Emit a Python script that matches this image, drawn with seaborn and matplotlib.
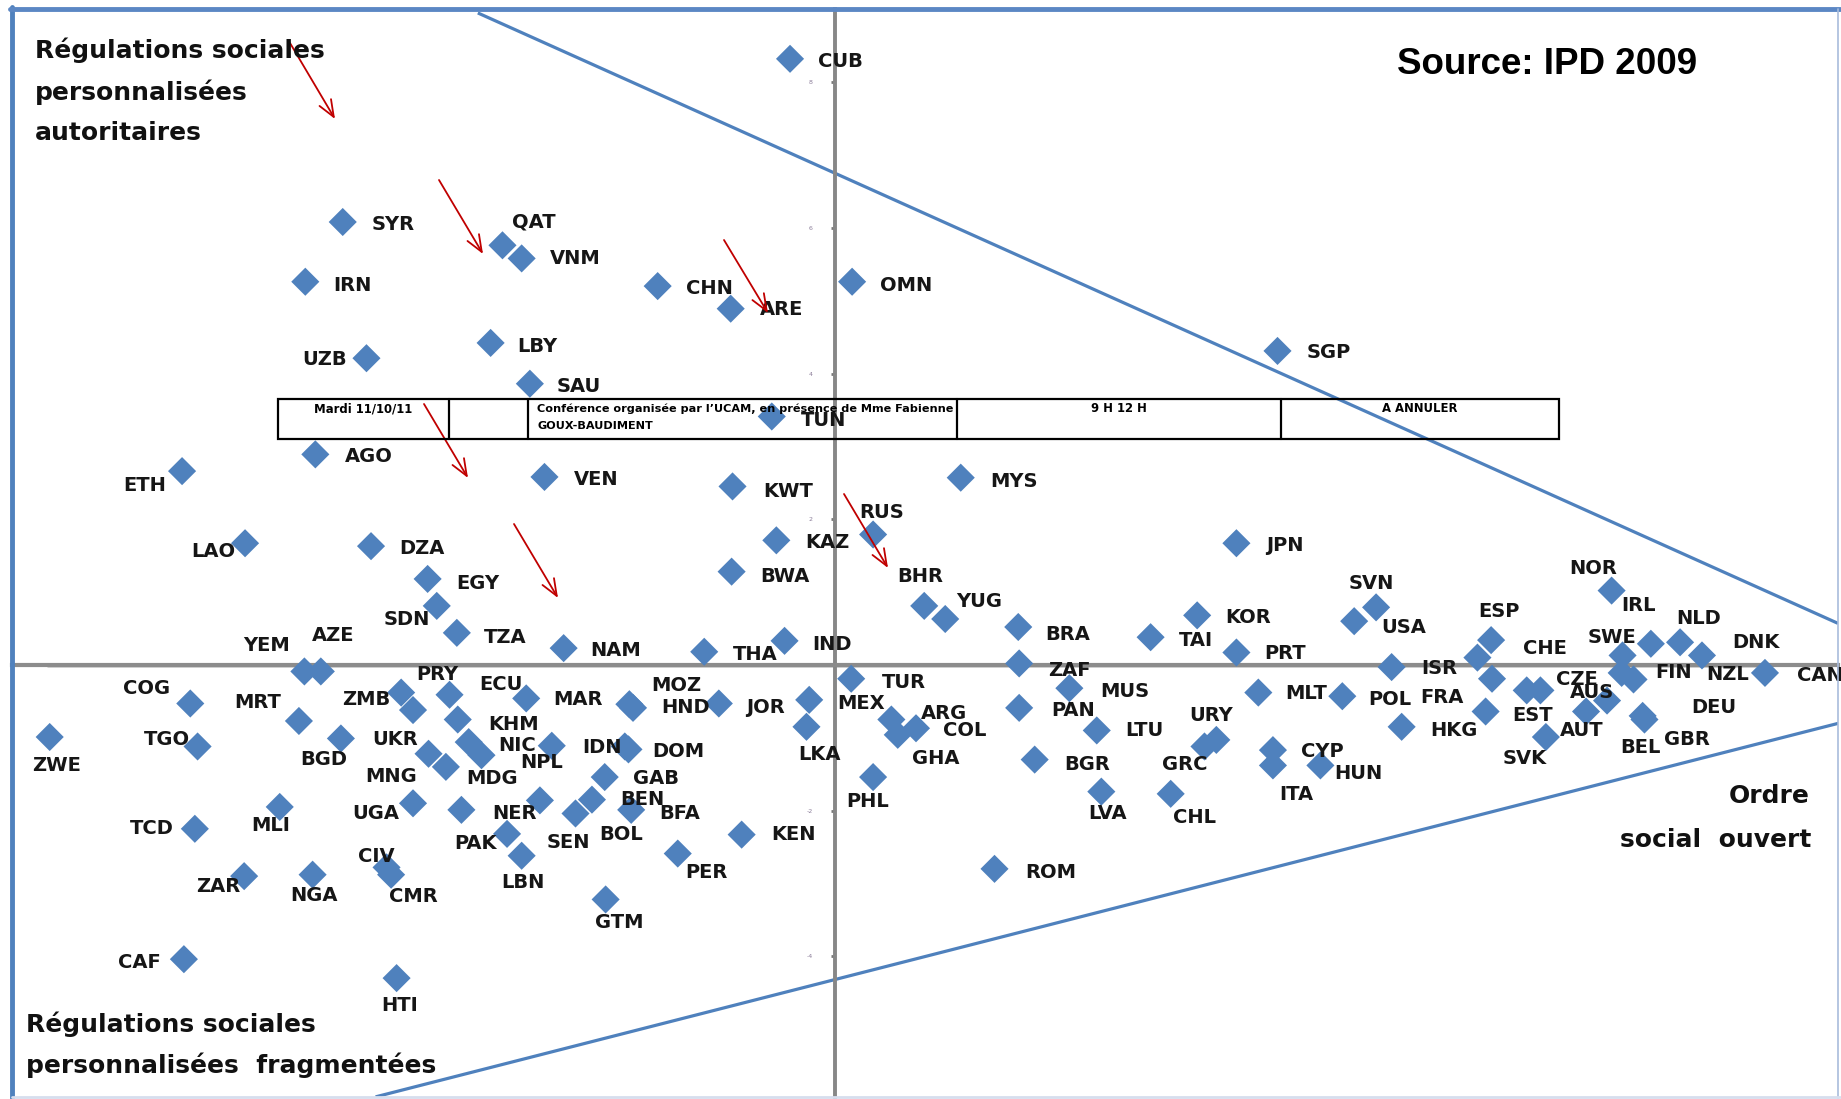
import matplotlib
matplotlib.use("Agg")
import matplotlib.pyplot as plt
import seaborn as sns
import pandas as pd
from matplotlib.lines import Line2D
from matplotlib.patches import Rectangle

# ---------------- data ----------------
countries = ["CUB","SYR","QAT","VNM","IRN","CHN","ARE","OMN","UZB","LBY","SAU","SGP","TUN","AGO","ETH","VEN",
             "KWT","MYS","RUS","KAZ","LAO","DZA","JPN","BWA","EGY","BHR","YUG","SDN","TZA","NAM","THA","IND",
             "BRA","TAI","KOR","PRT","SVN","USA","ESP","CHE","NOR","IRL","NLD","DNK","SWE","YEM","AZE","ZAF",
             "ISR","CAN","FIN","NZL","COG","ZWE","MRT","TGO","BGD","PRY","ZMB","ECU","MAR","MOZ","HND","JOR",
             "MEX","LKA","KHM","NIC","MDG","UKR","MNG","NPL","IDN","DOM","GAB","UGA","NER","PAK","SEN","BOL",
             "BEN","BFA","LBN","CIV","CMR","NGA","ZAR","MLI","TCD","CAF","HTI","GTM","PER","KEN","TUR","ARG",
             "COL","GHA","PHL","MUS","PAN","LTU","BGR","LVA","URY","GRC","CHL","ROM","MLT","POL","HKG","FRA",
             "EST","CZE","AUS","AUT","SVK","BEL","DEU","GBR","ITA","CYP","HUN"]
x_values = [-0.49,-5.39,-3.64,-3.43,-5.80,-1.94,-1.14,0.19,-5.13,-3.77,-3.34,4.85,-0.69,-5.69,-7.15,-3.18,
            -1.12,1.38,0.42,-0.64,-6.46,-5.08,4.40,-1.13,-4.46,0.98,1.21,-4.36,-4.14,-2.97,-1.43,-0.55,
            2.01,3.46,3.97,4.40,5.93,5.69,7.19,7.04,8.51,8.94,9.26,9.50,8.63,-5.81,-5.63,2.02,
            6.10,10.19,8.62,8.75,-7.06,-8.60,-5.87,-6.98,-5.41,-4.75,-4.62,-4.22,-3.38,-2.25,-2.21,-1.27,
            -0.28,-0.31,-4.13,-4.01,-3.87,-4.45,-4.26,-3.10,-2.30,-2.26,-2.52,-4.62,-4.09,-3.59,-3.23,-2.84,
            -2.66,-2.23,-3.43,-4.91,-4.86,-5.72,-6.47,-6.08,-7.01,-7.13,-4.80,-2.51,-1.72,-1.02,0.18,0.62,
            0.89,0.69,0.42,2.57,2.02,2.87,2.19,2.92,4.18,4.05,3.68,1.75,4.64,5.56,6.21,7.20,
            7.13,7.58,7.73,8.23,7.79,8.46,8.85,8.87,4.80,4.80,5.32]
y_values = [8.32,6.08,5.76,5.58,5.26,5.20,4.89,5.26,4.21,4.42,3.86,4.31,3.41,2.89,2.66,2.58,
            2.45,2.57,1.79,1.71,1.67,1.63,1.67,1.28,1.18,0.81,0.63,0.81,0.44,0.23,0.18,0.33,
            0.52,0.38,0.68,0.17,0.79,0.60,0.34,0.10,1.02,0.29,0.31,0.13,0.13,-0.09,-0.09,0.02,
            -0.03,-0.11,-0.11,-0.20,-0.53,-0.99,-0.77,-1.12,-1.01,-0.38,-0.62,-0.41,-0.46,-0.54,-0.59,-0.53,
            -0.48,-0.85,-0.75,-1.06,-1.24,-1.22,-1.40,-1.11,-1.12,-1.16,-1.54,-1.90,-1.99,-2.32,-1.86,-2.04,
            -1.85,-1.99,-2.62,-2.78,-2.88,-2.88,-2.90,-1.95,-2.25,-4.04,-4.30,-3.22,-2.59,-2.33,-0.19,-0.75,
            -0.87,-0.96,-1.54,-0.32,-0.59,-0.90,-1.30,-1.74,-1.03,-1.12,-1.77,-2.80,-0.38,-0.43,-0.85,-0.19,
            -0.64,-0.35,-0.35,-0.64,-0.99,-0.49,-0.70,-0.75,-1.38,-1.17,-1.38]
y_ticks = [-4, -2, 2, 4, 6, 8]
upper_line_x = [-3.91, 10.99]
upper_line_y = [8.95, 0.57]
lower_line_x = [-5.03, 11.0]
lower_line_y = [-5.93, -0.80]

# ---------------- layout (label offsets in reference px, dy downward) ----------------
LABEL_OFFSETS = {
    'CUB': (24, 2), 'SYR': (25, 2), 'QAT': (8, -20), 'VNM': (24, 0), 'IRN': (24, 3), 'CHN': (24, 2),
    'ARE': (25, 1), 'OMN': (24, 3), 'UZB': (-55, 1), 'LBY': (23, 3), 'SAU': (23, 2), 'SGP': (25, 1),
    'TUN': (25, 3), 'AGO': (25, 2), 'ETH': (-50, 12), 'VEN': (25, 2), 'KWT': (26, 4), 'MYS': (25, 3),
    'RUS': (-12, -19), 'KAZ': (25, 2), 'LAO': (-46, 7), 'DZA': (24, 2), 'JPN': (25, 2), 'BWA': (24, 4),
    'EGY': (24, 4), 'BHR': (-23, -25), 'YUG': (9, -15), 'SDN': (-45, 12), 'TZA': (23, 4), 'NAM': (23, 2),
    'THA': (24, 2), 'IND': (24, 3), 'BRA': (23, 6), 'TAI': (24, 3), 'KOR': (24, 2), 'PRT': (24, 1),
    'SVN': (-23, -20), 'USA': (23, 5), 'ESP': (-11, -24), 'CHE': (39, -8), 'NOR': (-36, -19),
    'IRL': (-25, -33), 'NLD': (-3, -20), 'DNK': (26, -11), 'SWE': (-30, -15), 'YEM': (-52, -22),
    'AZE': (-8, -31), 'ZAF': (25, 6), 'ISR': (25, 1), 'CAN': (27, 2), 'FIN': (29, 0), 'NZL': (62, -4),
    'COG': (-57, -13), 'ZWE': (-15, 24), 'MRT': (-55, -16), 'TGO': (-46, -6), 'BGD': (-35, 18),
    'PRY': (13, -15), 'ZMB': (-60, -9), 'ECU': (25, -9), 'MAR': (23, 1), 'MOZ': (19, -16), 'HND': (24, 0),
    'JOR': (23, 3), 'MEX': (24, 3), 'LKA': (-7, 24), 'KHM': (26, 4), 'NIC': (25, 3), 'MDG': (-13, 20),
    'UKR': (-48, -12), 'MNG': (-69, 8), 'NPL': (-27, 14), 'IDN': (-36, 1), 'DOM': (20, 2), 'GAB': (24, 1),
    'UGA': (-52, 9), 'NER': (26, 3), 'PAK': (-45, 8), 'SEN': (6, 36), 'BOL': (20, 18), 'BEN': (24, 0),
    'BFA': (24, 3), 'LBN': (-17, 23), 'CIV': (-24, -9), 'CMR': (-2, 19), 'NGA': (-19, 18), 'ZAR': (-41, 9),
    'MLI': (-24, 16), 'TCD': (-55, 0), 'CAF': (-56, 3), 'HTI': (-13, 23), 'GTM': (-9, 20), 'PER': (6, 16),
    'KEN': (25, 0), 'TUR': (26, 3), 'ARG': (25, -5), 'COL': (23, 2), 'GHA': (12, 20), 'PHL': (-23, 21),
    'MUS': (26, 3), 'PAN': (27, 2), 'LTU': (24, 0), 'BGR': (25, 4), 'LVA': (-11, 19), 'URY': (-23, -21),
    'GRC': (-36, 15), 'CHL': (2, 20), 'ROM': (26, 3), 'MLT': (23, 1), 'POL': (22, 3), 'HKG': (24, 3),
    'FRA': (-61, 16), 'EST': (23, 3), 'CZE': (25, -9), 'AUS': (25, 2), 'AUT': (-22, 16), 'SVK': (-37, 18),
    'BEL': (11, 40), 'DEU': (41, -7), 'GBR': (17, 17), 'ITA': (5, 25), 'CYP': (24, 1), 'HUN': (12, 7),
}
SCALE = 1841 / 1568.0
W, H = 1841, 1099
BLUE = "#4F81BD"
RED = "#C00000"

sns.set_theme(style="white")
plt.rcParams["font.family"] = ["DejaVu Sans"]

fig = plt.figure(figsize=(W / 100, H / 100), dpi=100)
fig.patch.set_facecolor("white")
ax = fig.add_axes([12 / W, 2 / H, 1826 / W, 1088 / H])
ax.set_facecolor("none")

df = pd.DataFrame({"code": countries, "x": x_values, "y": y_values})

# reference lines
ax.plot(upper_line_x, upper_line_y, color=BLUE, lw=2.3, zorder=1, solid_capstyle="butt")
ax.plot(lower_line_x, lower_line_y, color=BLUE, lw=2.3, zorder=1, solid_capstyle="butt")

sns.scatterplot(data=df, x="x", y="y", marker="D", s=205, color=BLUE, edgecolor="none",
                linewidth=0, ax=ax, zorder=3, legend=False)

ax.set_xlim(-9.013, 10.99)
ax.set_ylim(-5.932, 9.004)

for s in ["top", "right"]:
    ax.spines[s].set_visible(False)
ax.spines["left"].set_position(("data", 0))
ax.spines["left"].set_color("#878787")
ax.spines["left"].set_linewidth(2.8)
ax.spines["bottom"].set_position(("data", 0))
ax.spines["bottom"].set_color("#8c8c8c")
ax.spines["bottom"].set_linewidth(3.0)
ax.plot([-8.63, 10.19], [0, 0], color="black", lw=2.4, zorder=2, solid_capstyle="butt")

ax.set_xticks([])
ax.set_yticks(y_ticks)
ax.set_yticklabels([str(t) for t in y_ticks])
ax.tick_params(axis="y", direction="out", length=3, width=2, color="#777777",
               labelsize=4.5, labelcolor="#8b7d99", pad=13, left=True)
ax.set_xlabel("")
ax.set_ylabel("")

# country labels
for code, xv, yv in zip(countries, x_values, y_values):
    dx, dy = LABEL_OFFSETS.get(code, (25, 3))
    ax.annotate(code, (xv, yv), xytext=(dx * SCALE, -dy * SCALE), textcoords="offset pixels",
                ha="left", va="center", fontsize=14, fontweight="bold", color="#161616", zorder=4)

# frame
def fx(px):
    return px / W

def fy(py):
    return 1 - py / H

fig.add_artist(Line2D([fx(12), fx(12)], [fy(1098), fy(7)], color=BLUE, lw=3.5))
fig.add_artist(Line2D([fx(10), fx(1840)], [fy(9), fy(9)], color="#5B87C4", lw=3.5))
fig.add_artist(Line2D([fx(1838), fx(1838)], [fy(1098), fy(9)], color="#A9BCDC", lw=1.2))
fig.add_artist(Line2D([fx(12), fx(1840)], [fy(1097), fy(1097)], color="#D6DEEE", lw=2))

# table
tb_l, tb_r, tb_t, tb_b = 278, 1559, 399, 439
fig.add_artist(Rectangle((fx(tb_l), fy(tb_b)), (tb_r - tb_l) / W, (tb_b - tb_t) / H,
                         transform=fig.transFigure, fill=False, edgecolor="black", lw=1.6, zorder=5))
for dxp in [448.5, 528, 957, 1281]:
    fig.add_artist(Line2D([fx(dxp), fx(dxp)], [fy(tb_b), fy(tb_t)], color="black", lw=1.6, zorder=5))
tkw = dict(fontweight="bold", color="black", va="center", zorder=6)
fig.text(fx(363), fy(409), "Mardi 11/10/11", ha="center", fontsize=8.4, **tkw)
fig.text(fx(537), fy(409), "Conférence organisée par l\u2019UCAM, en présence de Mme Fabienne", ha="left",
         fontsize=8.1, **tkw)
fig.text(fx(537), fy(426), "GOUX-BAUDIMENT", ha="left", fontsize=8.1, **tkw)
fig.text(fx(1119), fy(409), "9 H 12 H", ha="center", fontsize=8.4, **tkw)
fig.text(fx(1420), fy(409), "A ANNULER", ha="center", fontsize=8.4, **tkw)

# annotations text
big = dict(fontsize=18, fontweight="bold", color="#111111", va="baseline")
fig.text(fx(35), fy(58), "Régulations sociales", ha="left", **big)
fig.text(fx(35), fy(100), "personnalisées", ha="left", **big)
fig.text(fx(35), fy(140), "autoritaires", ha="left", **big)
fig.text(fx(26), fy(1032), "Régulations sociales", ha="left", **big)
fig.text(fx(26), fy(1073), "personnalisées  fragmentées", ha="left", **big)
fig.text(fx(1810), fy(803), "Ordre", ha="right", **big)
fig.text(fx(1811), fy(847), "social  ouvert", ha="right", **big)
fig.text(fx(1547), fy(65), "Source: IPD 2009", ha="center", va="center", fontsize=26.5,
         fontweight="bold", family=["Liberation Sans", "DejaVu Sans"], color="black")

# red arrows (tail -> head, reference px)
arrows = [((290, 43), (335, 119)), ((439, 180), (483, 254)), ((724, 240), (768, 313)),
          ((424, 404), (468, 478)), ((514, 524), (558, 598)), ((844, 494), (888, 568))]
for (tx, ty), (hx, hy) in arrows:
    ax.annotate("", xy=(fx(hx), fy(hy)), xytext=(fx(tx), fy(ty)),
                xycoords="figure fraction", textcoords="figure fraction",
                arrowprops=dict(arrowstyle="->,head_length=1.0,head_width=0.4", color=RED,
                                lw=1.3, shrinkA=0, shrinkB=0), zorder=6)

fig.savefig("out.png", dpi=100)
